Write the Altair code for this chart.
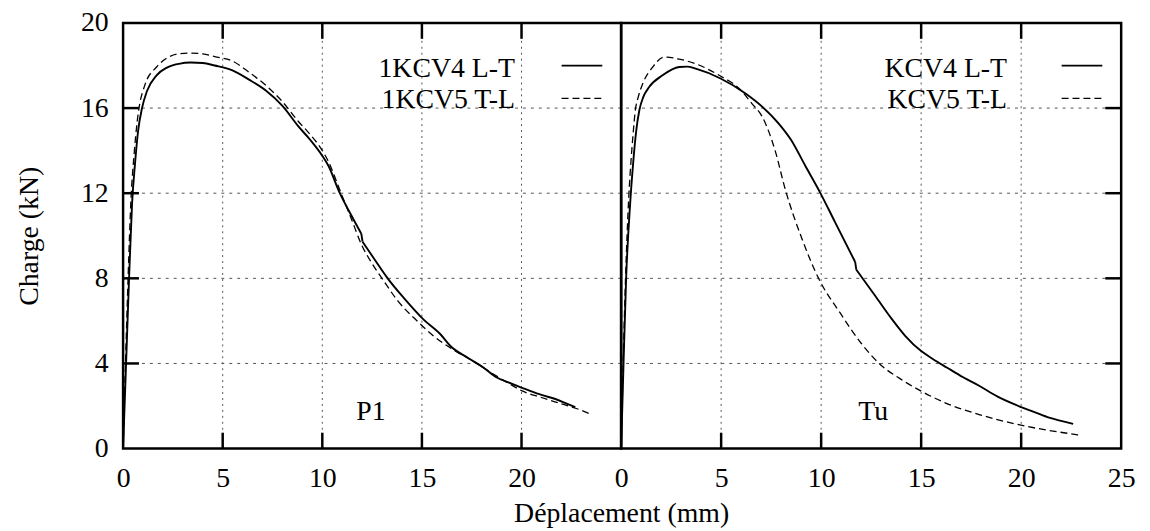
import altair as alt
import pandas as pd

# ---------------- data ----------------
# Panel P1
p1_lt_x = [0, 0.15, 0.3, 0.45, 0.6, 0.75, 0.95, 1.2, 1.68, 2.2, 2.8, 3.4, 4.0, 4.6, 5.49, 6.3, 7.15, 8.0, 8.8, 9.4, 9.97, 10.3, 10.88, 11.46, 11.96, 12.02, 12.6, 13.28, 14.11, 15.1, 15.94, 16.43, 17.3, 18.1, 18.76, 19.5, 20.4, 21.0, 21.7, 22.3, 22.7]
p1_lt_y = [0, 4.0, 8.0, 11.5, 13.4, 14.9, 16.0, 16.8, 17.54, 17.9, 18.08, 18.14, 18.12, 18.0, 17.77, 17.35, 16.84, 16.1, 15.14, 14.5, 13.8, 13.3, 12.0, 10.95, 10.09, 9.72, 8.92, 8.0, 7.06, 6.05, 5.36, 4.82, 4.27, 3.8, 3.34, 3.05, 2.72, 2.52, 2.33, 2.1, 1.95]
p1_lt_kink = 24  # index of the point just before the small drop

p1_tl_x = [0, 0.12, 0.25, 0.4, 0.55, 0.7, 0.8, 1.1, 1.68, 2.2, 2.8, 3.4, 4.0, 4.6, 5.49, 6.3, 7.15, 8.0, 8.8, 9.4, 9.97, 10.3, 10.9, 11.46, 11.96, 12.46, 13.03, 13.78, 14.78, 15.6, 16.43, 17.76, 18.5, 19.3, 20.0, 21.0, 22.0, 23.0, 23.5]
p1_tl_y = [0, 4.0, 8.0, 11.8, 13.8, 15.3, 16.0, 17.1, 17.93, 18.35, 18.55, 18.58, 18.55, 18.42, 18.21, 17.7, 17.08, 16.3, 15.37, 14.75, 14.05, 13.5, 12.1, 10.79, 9.6, 8.75, 7.95, 6.95, 5.98, 5.28, 4.73, 4.0, 3.55, 3.1, 2.72, 2.4, 2.1, 1.8, 1.6]

# Panel Tu
tu_lt_x = [0, 0.12, 0.25, 0.45, 0.6, 0.75, 0.91, 1.1, 1.41, 2.07, 2.9, 3.3, 3.73, 4.97, 6.2, 7.05, 7.9, 8.5, 9.2, 9.95, 10.7, 11.7, 11.76, 12.7, 13.5, 14.2, 15.0, 15.6, 16.3, 17.1, 17.9, 18.8, 20.0, 20.7, 21.4, 22.0, 22.6]
tu_lt_y = [0, 4.0, 8.0, 11.5, 13.4, 14.9, 15.9, 16.5, 17.0, 17.54, 17.93, 17.95, 17.85, 17.39, 16.7, 16.07, 15.25, 14.5, 13.3, 12.03, 10.63, 8.77, 8.4, 7.18, 6.13, 5.3, 4.58, 4.2, 3.8, 3.35, 2.95, 2.45, 1.95, 1.7, 1.45, 1.3, 1.16]
tu_lt_kink = 21

tu_tl_x = [0, 0.1, 0.22, 0.38, 0.5, 0.6, 0.71, 0.85, 1.08, 1.58, 2.15, 2.9, 3.73, 4.9, 5.9, 6.55, 7.05, 7.7, 8.2, 9.04, 9.87, 10.96, 12.0, 12.9, 14.0, 15.0, 16.2, 17.9, 19.7, 21.4, 22.3, 22.97]
tu_tl_y = [0, 4.0, 8.0, 11.8, 13.6, 14.8, 15.9, 16.5, 17.15, 17.93, 18.4, 18.3, 18.08, 17.54, 16.92, 16.2, 15.6, 14.0, 12.2, 9.86, 8.0, 6.36, 4.95, 4.0, 3.25, 2.7, 2.15, 1.6, 1.16, 0.85, 0.72, 0.62]

legend_left = ["1KCV4 L-T", "1KCV5 T-L"]
legend_right = ["KCV4 L-T", "KCV5 T-L"]
panel_names = ["P1", "Tu"]
panel_label_x = [12.44, 12.6]
panel_label_y = [1.32, 1.32]

x_left_ticks = [0, 5, 10, 15, 20]
x_right_ticks = [0, 5, 10, 15, 20, 25]
y_ticks = [0, 4, 8, 12, 16, 20]
grid_x = [5, 10, 15, 20]
grid_y = [4, 8, 12, 16]

# ---------------- styling ----------------
FONT = "Liberation Serif"
FS = 28
H = 429
TICK = 16
xs = alt.Scale(domain=[0, 25], nice=False, zero=False)
ys = alt.Scale(domain=[0, 20], nice=False, zero=False)


def segmented(xv, yv, k):
    """Split a curve at a small load drop so the smooth interpolation stays local."""
    parts = [(0, xv[:k + 1], yv[:k + 1]), (1, xv[k:k + 2], yv[k:k + 2]),
             (2, xv[k + 1:], yv[k + 1:])]
    frames = [pd.DataFrame({"x": a, "y": b, "seg": s}) for s, a, b in parts]
    return pd.concat(frames, ignore_index=True)


def panel(sx, sy, kink, dx, dy, labels, name, lx, ly, left, text_right, W):
    common = dict(ticks=False, tickSize=0, domain=False, grid=False,
                  labelFont=FONT, labelFontSize=FS, labelColor="black",
                  labelFlush=False, labelOverlap=False,
                  titleFont=FONT, titleFontSize=FS, titleFontWeight="normal",
                  titleColor="black")
    if left:
        x_axis = alt.Axis(
            values=x_left_ticks, labelBaseline="alphabetic", labelPadding=38,
            title="Déplacement (mm)", titleX=W, titleY=73,
            titleBaseline="alphabetic", titleAlign="center", **common)
        y_axis = alt.Axis(
            values=y_ticks, labelPadding=15, labelBaseline="middle",
            title="Charge (kN)", titleX=-86, titleY=H / 2, titleAngle=270,
            titleAlign="center", titleBaseline="alphabetic", **common)
    else:
        x_axis = alt.Axis(
            values=x_right_ticks, labelBaseline="alphabetic", labelPadding=38,
            title=None, **common)
        y_axis = None

    X = lambda f: alt.X(f, scale=xs, axis=x_axis)
    Y = lambda f: alt.Y(f, scale=ys, axis=y_axis)

    gx = alt.Chart(pd.DataFrame({"v": grid_x})).mark_rule(
        color="#555555", strokeWidth=1, strokeDash=[2, 4]
    ).encode(x=X("v:Q"))
    gy = alt.Chart(pd.DataFrame({"v": grid_y})).mark_rule(
        color="#555555", strokeWidth=1, strokeDash=[3, 5]
    ).encode(y=Y("v:Q"))

    solid = alt.Chart(segmented(sx, sy, kink)).mark_line(
        color="black", strokeWidth=1.9, interpolate="monotone"
    ).encode(x=X("x:Q"), y=Y("y:Q"), detail="seg:N")
    dashed = alt.Chart(pd.DataFrame({"x": dx, "y": dy})).mark_line(
        color="black", strokeWidth=1.3, strokeDash=[7, 4], interpolate="monotone"
    ).encode(x=X("x:Q"), y=Y("y:Q"))

    # inward ticks
    txdf = pd.DataFrame({"v": grid_x})
    bt = alt.Chart(txdf).mark_rule(color="black", strokeWidth=2.5).encode(
        x=X("v:Q"), y=alt.value(H), y2=alt.value(H - TICK))
    tt = alt.Chart(txdf).mark_rule(color="black", strokeWidth=2.5).encode(
        x=X("v:Q"), y=alt.value(0), y2=alt.value(TICK))
    tydf = pd.DataFrame({"v": grid_y})
    if left:
        yt = alt.Chart(tydf).mark_rule(color="black", strokeWidth=2.5).encode(
            y=Y("v:Q"), x=alt.value(0), x2=alt.value(TICK))
    else:
        yt = alt.Chart(tydf).mark_rule(color="black", strokeWidth=2.5).encode(
            y=Y("v:Q"), x=alt.value(W), x2=alt.value(W - TICK))

    # legend (text then line sample, gnuplot style)
    leg = []
    for i, (lab, dash, sw) in enumerate(zip(labels, [[1, 0], [7, 4]], [1.9, 1.3])):
        ty = 54 + 32 * i
        ly_ = 43 + 33 * i
        leg.append(alt.Chart(pd.DataFrame({"lab": [lab]})).mark_text(
            font=FONT, fontSize=FS, align="right", baseline="alphabetic", color="black"
        ).encode(text="lab:N", x=alt.value(text_right), y=alt.value(ty)))
        leg.append(alt.Chart(pd.DataFrame({"lab": [lab]})).mark_rule(
            color="black", strokeWidth=sw, strokeDash=dash
        ).encode(x=alt.value(W - 60), x2=alt.value(W - 19), y=alt.value(ly_)))

    ann = alt.Chart(pd.DataFrame({"n": [name], "x": [lx], "y": [ly]})).mark_text(
        font=FONT, fontSize=FS, align="center", baseline="alphabetic", color="black"
    ).encode(text="n:N", x=X("x:Q"), y=Y("y:Q"))

    return alt.layer(gx, gy, solid, dashed, bt, tt, yt, ann, *leg).properties(width=W, height=H)


left = panel(p1_lt_x, p1_lt_y, p1_lt_kink, p1_tl_x, p1_tl_y, legend_left, panel_names[0],
             panel_label_x[0], panel_label_y[0], True, 395, 502)
right = panel(tu_lt_x, tu_lt_y, tu_lt_kink, tu_tl_x, tu_tl_y, legend_right, panel_names[1],
              panel_label_x[1], panel_label_y[1], False, 389, 504)

chart = alt.hconcat(left, right, spacing=0, bounds="flush").properties(
    padding={"left": 6, "top": -3, "right": 5, "bottom": 0}
).configure_view(stroke="black", strokeWidth=2.5)

chart.save("out.html", embed_options={"renderer": "svg", "actions": False})
